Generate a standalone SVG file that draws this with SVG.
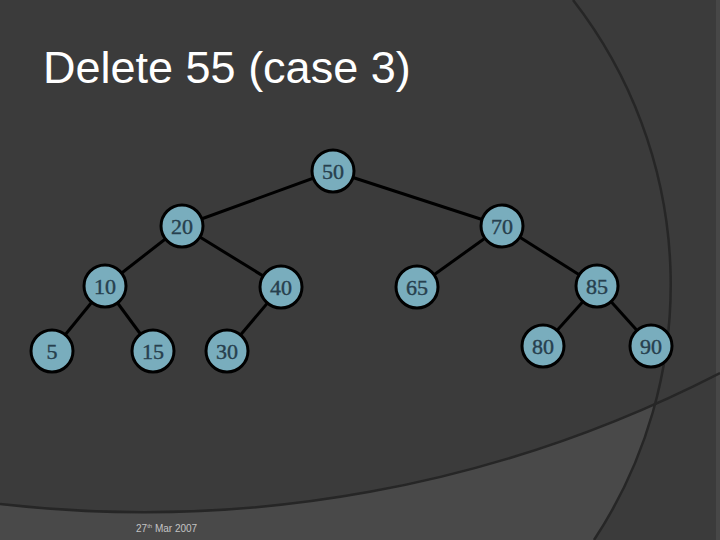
<svg xmlns="http://www.w3.org/2000/svg" width="720" height="540" viewBox="0 0 720 540">
<style>
.n circle{fill:#79adbd;stroke:#000;stroke-width:3}
.n text{font-family:"Liberation Serif",serif;font-size:22px;fill:#27404e;stroke:#27404e;stroke-width:0.4;text-anchor:middle}
#edges line{stroke:#000;stroke-width:3}
</style>
<rect width="720" height="540" fill="#3b3b3b"/>
<defs>
<clipPath id="below"><path d="M0,540 L0,504 A1262.5,1262.5 0 0 0 720,373 L720,540 Z"/></clipPath>
</defs>
<g clip-path="url(#below)">
<path d="M0,300 L0,540 L594,540 A463.4,463.4 0 0 0 671,285 L671,300 Z" fill="#494949"/>
</g>
<rect x="716" y="0" width="4" height="540" fill="#474747"/>
<path d="M0,504 A1262.5,1262.5 0 0 0 720,373" fill="none" stroke="#262626" stroke-width="2.5"/>
<path d="M573,0 A463.4,463.4 0 0 1 594,540" fill="none" stroke="#262626" stroke-width="2.5"/>
<text x="43" y="83" font-family="Liberation Sans, Arial, sans-serif" font-size="45" fill="#ffffff">Delete 55 (case 3)</text>
<text x="136" y="532" font-family="Liberation Sans, Arial, sans-serif" font-size="10" fill="#c4c4c4">27<tspan font-size="6" dy="-4">th</tspan><tspan dy="4"> Mar 2007</tspan></text>
<g id="edges">
<line x1="333" y1="171" x2="182" y2="226"/>
<line x1="333" y1="171" x2="502" y2="226"/>
<line x1="182" y1="226" x2="105" y2="286"/>
<line x1="182" y1="226" x2="281" y2="287"/>
<line x1="502" y1="226" x2="417" y2="287"/>
<line x1="502" y1="226" x2="597" y2="286"/>
<line x1="105" y1="286" x2="52" y2="351"/>
<line x1="105" y1="286" x2="153" y2="351"/>
<line x1="281" y1="287" x2="227" y2="351"/>
<line x1="597" y1="286" x2="543" y2="346"/>
<line x1="597" y1="286" x2="651" y2="346"/>
</g>
<g id="n50" class="n"><circle cx="333" cy="171" r="21"/><text x="333" y="179">50</text></g>
<g id="n20" class="n"><circle cx="182" cy="226" r="21"/><text x="182" y="234">20</text></g>
<g id="n70" class="n"><circle cx="502" cy="226" r="21"/><text x="502" y="234">70</text></g>
<g id="n10" class="n"><circle cx="105" cy="286" r="21"/><text x="105" y="294">10</text></g>
<g id="n40" class="n"><circle cx="281" cy="287" r="21"/><text x="281" y="295">40</text></g>
<g id="n65" class="n"><circle cx="417" cy="287" r="21"/><text x="417" y="295">65</text></g>
<g id="n85" class="n"><circle cx="597" cy="286" r="21"/><text x="597" y="294">85</text></g>
<g id="n5" class="n"><circle cx="52" cy="351" r="21"/><text x="52" y="359">5</text></g>
<g id="n15" class="n"><circle cx="153" cy="351" r="21"/><text x="153" y="359">15</text></g>
<g id="n30" class="n"><circle cx="227" cy="351" r="21"/><text x="227" y="359">30</text></g>
<g id="n80" class="n"><circle cx="543" cy="346" r="21"/><text x="543" y="354">80</text></g>
<g id="n90" class="n"><circle cx="651" cy="346" r="21"/><text x="651" y="354">90</text></g>
</svg>
